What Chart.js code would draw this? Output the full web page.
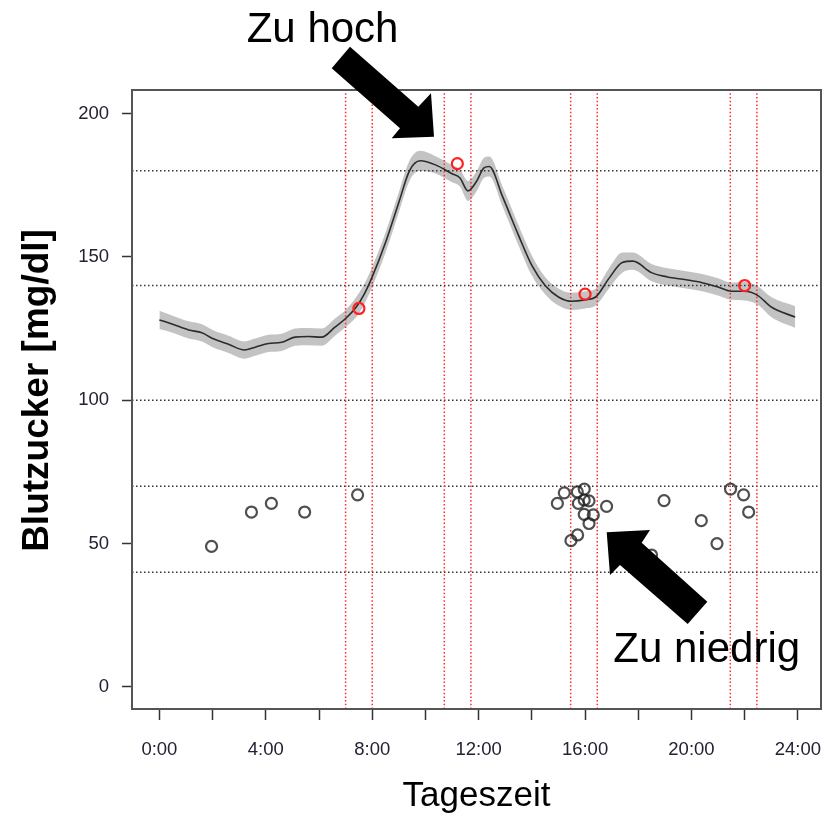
<!DOCTYPE html>
<html>
<head>
<meta charset="utf-8">
<script src="https://cdn.jsdelivr.net/npm/chart.js@4/dist/chart.umd.min.js"></script>
<style>
  html, body { margin: 0; padding: 0; background: #fff; }
</style>
</head>
<body>
<canvas id="chart" width="837" height="814"></canvas>
<script>
// Tagesverlauf (Stunden) und geglättete Kurve
const curveHours  = [0, 0.5, 1.1, 1.6, 2.0, 2.6, 3.2, 3.6, 4.1, 4.6, 5.1, 5.6, 6.1, 6.6, 7.0, 7.4, 7.7, 8.0, 8.5, 9.0, 9.4, 9.8, 10.4, 11.0, 11.3, 11.6, 11.9, 12.2, 12.4, 12.9, 13.5, 14.0, 14.5, 15.0, 15.5, 16.0, 16.4, 16.9, 17.4, 17.8, 18.5, 19.1, 19.8, 20.4, 21.0, 21.5, 22.0, 22.5, 23.0, 23.9];
const curveValues = [128, 126.5, 124.5, 123.5, 121.5, 119.5, 117.5, 118.5, 119.8, 120.2, 122, 122.2, 122, 125.5, 128.5, 132.5, 137, 143, 155, 169, 180, 183.5, 182, 179, 177.5, 173, 176, 181, 181.5, 171, 157.5, 147, 140, 136, 134.5, 135, 136, 142.5, 148, 148.5, 144.5, 143, 142, 141, 139.5, 138, 138, 136.5, 132.5, 129];
const bandHalf    = [3.2, 3, 3, 3, 3, 3, 3, 3, 3, 3, 3, 3, 3, 3, 3, 3.5, 3.5, 3.5, 3.5, 3.5, 3.5, 3.5, 3, 3, 3, 3.5, 3.5, 3.5, 3.5, 3.5, 3.5, 3.5, 3, 3, 3, 3, 3, 3.5, 3.5, 3, 3, 3, 3, 3, 3, 3, 3.2, 3.2, 3.5, 3.8];

// zu hohe Werte (rot)
const highHours  = [7.5, 11.2, 16.0, 22.0];
const highValues = [132, 182.5, 137, 140];

// zu niedrige Werte (schwarz)
const lowHours  = [1.96, 3.46, 4.21, 5.46, 7.45, 14.96, 15.22, 15.47, 15.71, 15.72, 15.75, 15.97, 15.97, 15.97, 16.15, 16.15, 16.31, 16.81, 18.5, 18.97, 20.37, 20.96, 21.47, 21.96, 22.15];
const lowValues = [49, 61, 64, 61, 67, 64, 67.7, 51, 68, 53, 64, 69, 65.2, 60.2, 64.9, 57, 60, 63, 46, 65, 58, 50, 69, 67, 61];

// Mahlzeiten-Fenster (rote Linien) und Referenzlinien
const mealLines = [7, 8, 10.71, 11.71, 15.46, 16.46, 21.46, 22.46];
const refLines  = [180, 140, 100, 70, 40];

const xTicks = [0, 2, 4, 6, 8, 10, 12, 14, 16, 18, 20, 22, 24];
const yTicks = [0, 50, 100, 150, 200];

const X_MIN = -1.03, X_MAX = 24.87;
const Y_MIN = -7.7, Y_MAX = 208.2;
const FONT = '"Liberation Sans", Arial, sans-serif';

const pts = (xs, ys) => xs.map((x, i) => ({ x, y: ys[i] }));

const datasets = [
  { label: 'hoch', data: pts(highHours, highValues), pointRadius: 5.5, pointBorderWidth: 2.2,
    pointBorderColor: '#ff2020', pointBackgroundColor: 'rgba(0,0,0,0)', showLine: false },
  { label: 'niedrig', data: pts(lowHours, lowValues), pointRadius: 5.5, pointBorderWidth: 2.2,
    pointBorderColor: 'rgba(35,35,35,0.8)', pointBackgroundColor: 'rgba(0,0,0,0)', showLine: false },
  { label: 'kurve', data: pts(curveHours, curveValues), showLine: true, pointRadius: 0,
    borderColor: '#2c2c2c', borderWidth: 1.6, cubicInterpolationMode: 'monotone' }
];
mealLines.forEach(h => datasets.push({
  data: [{ x: h, y: Y_MIN }, { x: h, y: Y_MAX }], showLine: true, pointRadius: 0,
  borderColor: '#ff2a2a', borderWidth: 1.5, borderDash: [1.5, 2.2]
}));
refLines.forEach(v => datasets.push({
  data: [{ x: X_MIN, y: v }, { x: X_MAX, y: v }], showLine: true, pointRadius: 0,
  borderColor: '#333', borderWidth: 1.5, borderDash: [1.5, 2.5]
}));
const lowIdx = datasets.length;
datasets.push({ data: pts(curveHours, curveValues.map((v, i) => v - bandHalf[i])), showLine: true,
  pointRadius: 0, borderWidth: 0, borderColor: 'rgba(0,0,0,0)', cubicInterpolationMode: 'monotone' });
datasets.push({ data: pts(curveHours, curveValues.map((v, i) => v + bandHalf[i])), showLine: true,
  pointRadius: 0, borderWidth: 0, borderColor: 'rgba(0,0,0,0)', cubicInterpolationMode: 'monotone',
  fill: { target: lowIdx }, backgroundColor: 'rgba(170,170,170,0.7)' });

const frame = {
  id: 'frame',
  afterDatasetsDraw(chart) {
    const { ctx, chartArea: a } = chart;
    ctx.save();
    ctx.strokeStyle = '#555';
    ctx.lineWidth = 2;
    ctx.strokeRect(a.left, a.top, a.right - a.left, a.bottom - a.top);
    ctx.restore();
  }
};

function arrow(ctx, p) {
  ctx.beginPath();
  ctx.moveTo(p[0][0], p[0][1]);
  for (let i = 1; i < p.length; i++) ctx.lineTo(p[i][0], p[i][1]);
  ctx.closePath();
  ctx.fill();
}

const notes = {
  id: 'notes',
  afterDraw(chart) {
    const ctx = chart.ctx;
    ctx.save();
    ctx.fillStyle = '#000';
    arrow(ctx, [[350, 46.7], [418.3, 106.7], [431, 93.3], [434, 136.7], [391.7, 138.3], [400, 128.3], [331.7, 68.3]]);
    arrow(ctx, [[707.3, 601.7], [641.7, 542.7], [650, 530], [606.7, 532.3], [610, 575], [620, 565], [687.7, 624]]);
    ctx.font = '42px ' + FONT;
    ctx.textBaseline = 'alphabetic';
    ctx.textAlign = 'left';
    ctx.fillText('Zu hoch', 246.7, 41.7);
    ctx.fillText('Zu niedrig', 613.3, 661.7);
    // y-Achsentitel
    ctx.translate(38, 390.5);
    ctx.rotate(-Math.PI / 2);
    ctx.font = 'bold 37px ' + FONT;
    ctx.textAlign = 'center';
    ctx.textBaseline = 'middle';
    ctx.fillText('Blutzucker [mg/dl]', 0, 0);
    ctx.restore();
  }
};

new Chart(document.getElementById('chart'), {
  type: 'scatter',
  data: { datasets },
  options: {
    responsive: false,
    animation: false,
    layout: { padding: { top: 90, right: 16, left: 0, bottom: 0 } },
    plugins: { legend: { display: false }, tooltip: { enabled: false } },
    scales: {
      x: {
        type: 'linear', min: X_MIN, max: X_MAX,
        afterBuildTicks: s => { s.ticks = xTicks.map(v => ({ value: v })); },
        afterFit: s => { s.height = 105; s.paddingLeft = 0; s.paddingRight = 0; },
        grid: { drawOnChartArea: false, drawTicks: true, tickLength: 11, tickColor: '#333', tickWidth: 1.5 },
        border: { display: false },
        ticks: { autoSkip: false, maxRotation: 0, padding: 19, color: '#222233',
          font: { family: FONT, size: 18.5 },
          callback: v => (v % 4 === 0 ? v + ':00' : '') },
        title: { display: true, text: 'Tageszeit', color: '#000', padding: { top: 0, bottom: -3 },
          font: { family: FONT, size: 35 } }
      },
      y: {
        type: 'linear', min: Y_MIN, max: Y_MAX,
        afterBuildTicks: s => { s.ticks = yTicks.map(v => ({ value: v })); },
        afterFit: s => { s.width = 132; s.paddingTop = 0; s.paddingBottom = 0; },
        grid: { drawOnChartArea: false, drawTicks: true, tickLength: 10, tickColor: '#333', tickWidth: 1.5 },
        border: { display: false },
        ticks: { padding: 13, color: '#222233', font: { family: FONT, size: 18.5 } }
      }
    }
  },
  plugins: [frame, notes]
});
</script>
</body>
</html>
